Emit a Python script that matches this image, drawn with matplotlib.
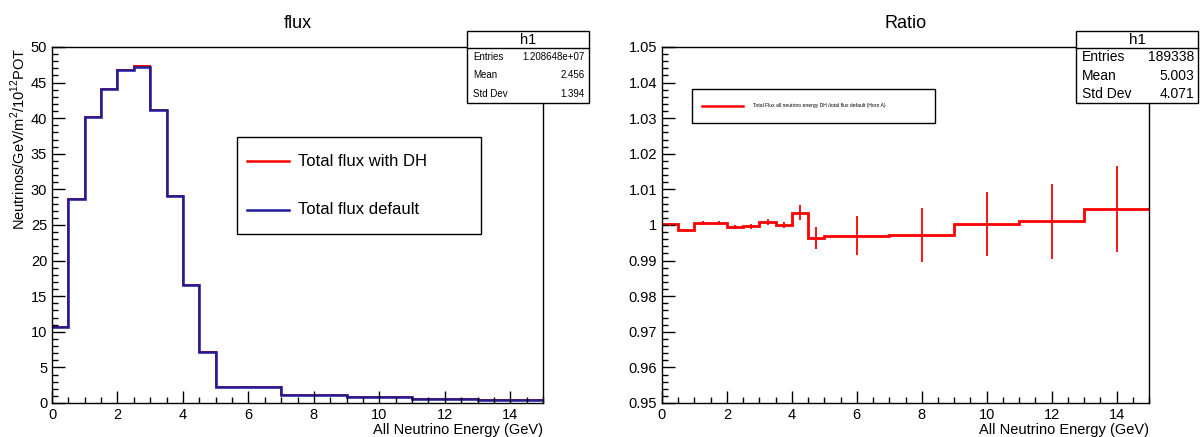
import numpy as np
import matplotlib.pyplot as plt
from matplotlib.patches import Rectangle
from matplotlib.lines import Line2D
from matplotlib.ticker import MultipleLocator

plt.rcParams['font.family'] = ['Liberation Sans', 'DejaVu Sans']
plt.rcParams['mathtext.fontset'] = 'custom'
plt.rcParams['mathtext.rm'] = 'Liberation Sans'

# bin edges (GeV)
edges = [0, 0.5, 1, 1.5, 2, 2.5, 3, 3.5, 4, 4.5, 5, 7, 9, 11, 13, 15]

# flux per bin
flux_dh = [10.7, 28.7, 40.1, 44.1, 46.8, 47.3, 41.2, 29.1, 16.6, 7.1, 2.2, 1.1, 0.8, 0.6, 0.45]
flux_def = [10.7, 28.7, 40.1, 44.1, 46.7, 47.2, 41.2, 29.1, 16.6, 7.1, 2.2, 1.1, 0.8, 0.6, 0.45]

# ratio DH / default
ratio = [1.0002, 0.9985, 1.0005, 1.0006, 0.9995, 0.9997, 1.0008, 1.0000, 1.0035, 0.9963,
         0.9970, 0.9973, 1.0003, 1.0010, 1.0045]
ratio_err = [0.0005, 0.0005, 0.0006, 0.0006, 0.0006, 0.0007, 0.0008, 0.0009, 0.0020, 0.0030,
             0.0055, 0.0076, 0.0090, 0.0106, 0.0122]

stats_flux = [("Entries", "1.208648e+07"), ("Mean", "2.456"), ("Std Dev", "1.394")]
stats_ratio = [("Entries", "189338"), ("Mean", "5.003"), ("Std Dev", "4.071")]

W, H = 1201, 437
fig = plt.figure(figsize=(W / 100, H / 100), dpi=100)


def px(x0, y0, x1, y1):
    return [x0 / W, 1 - y1 / H, (x1 - x0) / W, (y1 - y0) / H]


def root_axes(ax):
    ax.tick_params(which='both', direction='in', top=False, right=False, labelsize=10.5, width=1)
    ax.tick_params(which='major', length=9)
    ax.tick_params(which='minor', length=4.5)
    for s in ax.spines.values():
        s.set_linewidth(1)
    ax.xaxis.set_major_locator(MultipleLocator(2))
    ax.xaxis.set_minor_locator(MultipleLocator(0.5))
    ax.set_xlim(0, 15)
    ax.set_xlabel("All Neutrino Energy (GeV)", fontsize=10.5, loc='right', labelpad=1)


def stat_box(x0, y0, x1, y1, rows, fs, hfs):
    r = Rectangle((x0 / W, 1 - y1 / H), (x1 - x0) / W, (y1 - y0) / H, transform=fig.transFigure,
                  facecolor='white', edgecolor='black', lw=1, zorder=10)
    fig.add_artist(r)
    yh = y0 + 17
    fig.add_artist(Line2D([x0 / W, x1 / W], [1 - yh / H] * 2, transform=fig.transFigure,
                          color='black', lw=1, zorder=11))
    fig.text((x0 + x1) / 2 / W, 1 - (y0 + 9) / H, "h1", ha='center', va='center', fontsize=hfs, zorder=12)
    step = (y1 - yh) / 3
    for i, (k, v) in enumerate(rows):
        yy = 1 - (yh + step * (i + 0.5)) / H
        fig.text((x0 + 6) / W, yy, k, ha='left', va='center', fontsize=fs, zorder=12)
        fig.text((x1 - 4) / W, yy, v, ha='right', va='center', fontsize=fs, zorder=12)


# left: flux
ax1 = fig.add_axes(px(52, 47, 543, 403))
ax1.stairs(flux_dh, edges, color='#ff0000', lw=1.4, baseline=None)
ax1.stairs(flux_def, edges, color='#1c1c9c', lw=1.9, baseline=None, alpha=0.95)
ax1.set_ylim(0, 50)
ax1.yaxis.set_major_locator(MultipleLocator(5))
ax1.yaxis.set_minor_locator(MultipleLocator(1))
root_axes(ax1)
ax1.set_ylabel("Neutrinos/GeV/m$^2$/10$^{12}$POT", fontsize=10.5, loc='top', labelpad=2)
ax1.set_title("flux", fontsize=13, pad=14)

leg = Rectangle((237 / W, 1 - 234 / H), (481 - 237) / W, (234 - 137) / H, transform=fig.transFigure,
                facecolor='white', edgecolor='black', lw=1, zorder=5)
fig.add_artist(leg)
for yy, c, t in [(161, '#ff0000', "Total flux with DH"), (210, '#1c1c9c', "Total flux default")]:
    fig.add_artist(Line2D([247 / W, 289 / W], [1 - yy / H] * 2, transform=fig.transFigure,
                          color=c, lw=1.8, zorder=6))
    fig.text(298 / W, 1 - yy / H, t, ha='left', va='center', fontsize=12, zorder=6)

stat_box(467, 31, 589, 103, stats_flux, 7, 10.5)

# right: ratio
ax2 = fig.add_axes(px(662, 47, 1149, 403))
centers = [(a + b) / 2 for a, b in zip(edges[:-1], edges[1:])]
ax2.stairs(ratio, edges, color='#ff0000', lw=2, baseline=None)
ax2.errorbar(centers, ratio, yerr=ratio_err, fmt='none', ecolor='#ff0000', elinewidth=1.3, capsize=0)
ax2.set_ylim(0.95, 1.05)
ax2.yaxis.set_minor_locator(MultipleLocator(0.002))
ax2.set_yticks(np.round(np.arange(0.95, 1.0501, 0.01), 2))
ax2.set_yticklabels(["0.95", "0.96", "0.97", "0.98", "0.99", "1", "1.01", "1.02", "1.03", "1.04", "1.05"])
root_axes(ax2)
ax2.set_title("Ratio", fontsize=13, pad=14)

leg2 = Rectangle((692 / W, 1 - 123 / H), (935 - 692) / W, (123 - 89) / H, transform=fig.transFigure,
                 facecolor='white', edgecolor='black', lw=1, zorder=5)
fig.add_artist(leg2)
fig.add_artist(Line2D([702 / W, 743 / W], [1 - 106 / H] * 2, transform=fig.transFigure,
                      color='#ff0000', lw=1.8, zorder=6))
fig.text(753 / W, 1 - 106 / H, "Total Flux all neutrino energy DH /total flux default (Horn A)",
         ha='left', va='center', fontsize=3.6, zorder=6)

stat_box(1076, 31, 1198, 103, stats_ratio, 10, 11)

fig.savefig("out.png", dpi=100)
